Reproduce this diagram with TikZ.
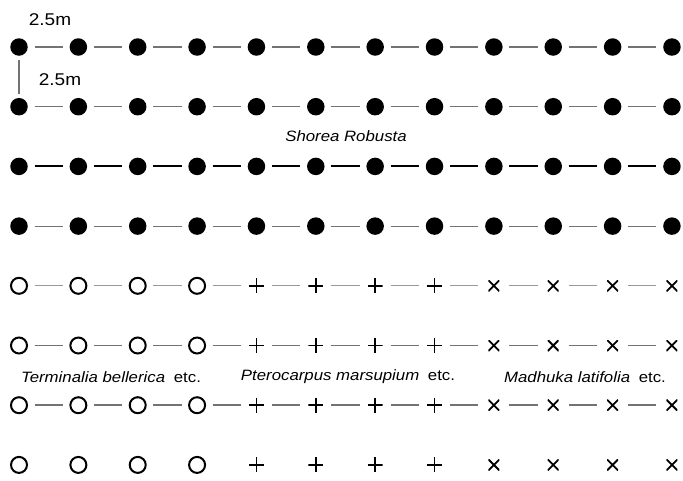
\documentclass[tikz,border=0pt]{standalone}
\usepackage{fontspec}
\setmainfont{Liberation Sans}[FakeStretch=1.12]
\begin{document}
\begin{tikzpicture}[x=1pt,y=-1pt,
  dot/.style={circle,fill=black,minimum size=17.5pt,inner sep=0pt},
  ring/.style={circle,draw=black,line width=2pt,minimum size=16pt,inner sep=0pt},
  plusmark/.style={rectangle,minimum size=15pt,inner sep=0pt,
    path picture={\draw[line width=1.5pt] (path picture bounding box.north) -- (path picture bounding box.south)
      (path picture bounding box.west) -- (path picture bounding box.east);}},
  crossmark/.style={rectangle,minimum size=11pt,inner sep=0pt,
    path picture={\draw[line width=1.8pt] (path picture bounding box.north west) -- (path picture bounding box.south east)
      (path picture bounding box.north east) -- (path picture bounding box.south west);}},
  conn/.style={shorten <=15.5pt,shorten >=15.5pt},
  thinline/.style={conn,draw=black!55,line width=1.2pt},
  lightline/.style={conn,draw=black!40,line width=1.1pt},
  boldline/.style={conn,draw=black,line width=2pt},
  grayline/.style={conn,draw=black!55,line width=2.2pt},
  dim/.style={font=\fontsize{17}{17}\selectfont,inner sep=0pt},
  species/.style={font=\fontsize{15}{15}\selectfont,inner sep=0pt}
]
\useasboundingbox (0,0) rectangle (683,480);
% filled dots rows 0-3
\foreach \r/\y in {0/47,1/106.7,2/166.4,3/226.1}{
  \foreach \c in {0,...,11}{
    \node[dot] (n\r-\c) at ({19+\c*59.36},\y) {};
  }
}
% lower rows 4-7
\foreach \r/\y in {4/285.8,5/345.5,6/405.2,7/464.9}{
  \foreach \c in {0,...,3}{
    \node[ring] (n\r-\c) at ({19+\c*59.36},\y) {};
  }
  \foreach \c in {4,...,7}{
    \node[plusmark] (n\r-\c) at ({19+\c*59.36},\y) {};
  }
  \foreach \c in {8,...,11}{
    \node[crossmark] (n\r-\c) at ({19+\c*59.36},\y) {};
  }
}
% connectors
\foreach \r/\s in {0/thinline,1/thinline,2/boldline,3/thinline,4/lightline,5/thinline,6/grayline}{
  \foreach \c [evaluate=\c as \d using {int(\c+1)}] in {0,...,10}{
    \draw[\s] (n\r-\c.center) -- (n\r-\d.center);
  }
}
% vertical spacing marker
\draw[draw=black!55,line width=1.2pt,shorten <=13pt,shorten >=13pt] (n0-0.center) -- (n1-0.center);
% labels
\node[dim] (dh) at (50,20) {2.5m};
\node[dim] (dv) at (60,80) {2.5m};
\node[species] (sr) at (346,136) {\itshape Shorea Robusta};
\node[species] (tb) at (111,377) {\itshape Terminalia bellerica\upshape\hspace{4pt} etc.};
\node[species] (pm) at (348,377) {\itshape Pterocarpus marsupium\upshape\hspace{4pt} etc.};
\node[species] (ml) at (585,377) {\itshape Madhuka latifolia\upshape\hspace{4pt} etc.};
\end{tikzpicture}
\end{document}
